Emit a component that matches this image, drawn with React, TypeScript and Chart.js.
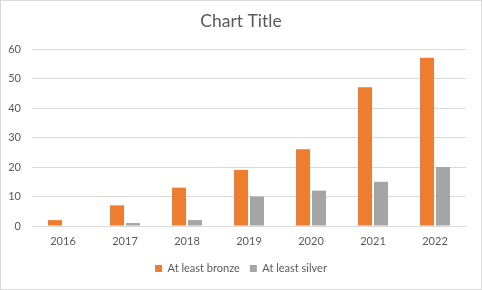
import React, { useEffect, useRef } from "react";
import { Chart, registerables } from "chart.js";

Chart.register(...registerables);

const categories = ["2016", "2017", "2018", "2019", "2020", "2021", "2022"];
const bronzeValues = [2, 7, 13, 19, 26, 47, 57];
const silverValues = [0, 1, 2, 10, 12, 15, 20];
const seriesNames = ["At least bronze", "At least silver"];
const yTicks = { min: 0, max: 60, step: 10 };

const borderPlugin = {
  id: "outerBorder",
  beforeDraw(chart: any) {
    const { ctx, width, height } = chart;
    ctx.save();
    ctx.fillStyle = "#ffffff";
    ctx.fillRect(0, 0, width, height);
    ctx.strokeStyle = "#d9d9d9";
    ctx.lineWidth = 1;
    ctx.strokeRect(0.5, 0.5, width - 1, height - 1);
    ctx.restore();
  },
};

export default function App() {
  const ref = useRef<HTMLCanvasElement | null>(null);
  useEffect(() => {
    document.body.style.margin = "0";
    if (!ref.current) return;
    const font = "Lato, 'Open Sans', sans-serif";
    const chart = new Chart(ref.current, {
      type: "bar",
      data: {
        labels: categories,
        datasets: [
          {
            label: seriesNames[0],
            data: bronzeValues,
            backgroundColor: "#ED7D31",
            categoryPercentage: 0.516,
            barPercentage: 0.875,
          },
          {
            label: seriesNames[1],
            data: silverValues,
            backgroundColor: "#A5A5A5",
            categoryPercentage: 0.516,
            barPercentage: 0.875,
          },
        ],
      },
      options: {
        animation: false,
        responsive: false,
        devicePixelRatio: 1,
        layout: { padding: { top: 0, right: 0, bottom: 6, left: 0 } },
        plugins: {
          title: {
            display: true,
            text: "Chart Title",
            color: "#595959",
            font: { family: font, size: 17.5, weight: "normal" },
            padding: { top: 11, bottom: 17 },
          },
          legend: {
            position: "bottom",
            labels: {
              color: "#595959",
              font: { family: font, size: 11 },
              boxWidth: 7,
              boxHeight: 7,
              padding: 10,
            },
          },
          tooltip: { enabled: false },
        },
        scales: {
          x: {
            grid: { display: false, drawTicks: false },
            border: { display: false },
            ticks: {
              color: "#595959",
              font: { family: font, size: 11 },
              padding: 9,
            },
            afterFit(scale: any) {
              scale.height = 27;
            },
          },
          y: {
            min: yTicks.min,
            max: yTicks.max,
            grid: { color: "#d9d9d9", drawTicks: false },
            border: { display: false },
            ticks: {
              stepSize: yTicks.step,
              color: "#595959",
              font: { family: font, size: 11 },
              padding: 11,
            },
            afterFit(scale: any) {
              scale.width = 32;
            },
          },
          yRightSpacer: {
            type: "linear",
            position: "right",
            display: true,
            min: yTicks.min,
            max: yTicks.max,
            grid: { display: false, drawTicks: false },
            border: { display: false },
            ticks: { display: false },
            afterFit(scale: any) {
              scale.width = 16;
            },
          },
        },
      },
      plugins: [borderPlugin],
    });
    return () => chart.destroy();
  }, []);
  return (
    <div style={{ width: 482, height: 290 }}>
      <canvas ref={ref} width={482} height={290} style={{ display: "block" }} />
    </div>
  );
}
